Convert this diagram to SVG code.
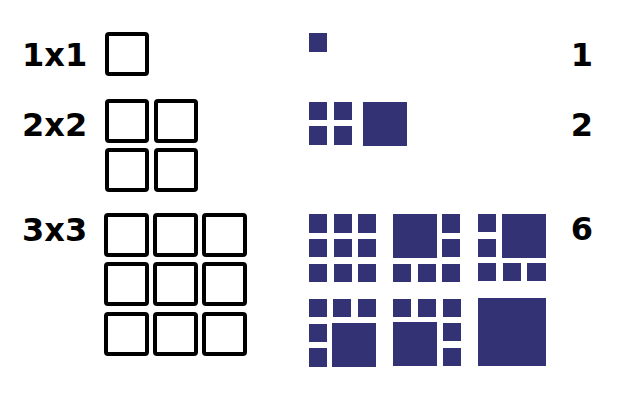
<svg xmlns="http://www.w3.org/2000/svg" width="640" height="400" viewBox="0 0 640 400">
<style>
.lbl{font-family:"DejaVu Sans","Liberation Sans",sans-serif;font-weight:bold;font-size:32px;fill:#000}
.num{font-family:"DejaVu Sans","Liberation Sans",sans-serif;font-weight:bold;font-size:32px;fill:#000;text-anchor:middle}
.cell{fill:#fff;stroke:#000;stroke-width:4}
.f{fill:#323274}
</style>
<rect width="640" height="400" fill="#fff"/>
<g id="labels">
<text class="lbl" x="22" y="66">1x1</text>
<text class="lbl" x="22" y="136">2x2</text>
<text class="lbl" x="22" y="241">3x3</text>
<text class="num" x="582" y="66">1</text>
<text class="num" x="582" y="136">2</text>
<text class="num" x="582" y="240">6</text>
</g>
<g id="grid1x1">
<rect class="cell" x="107" y="34" width="40" height="40" rx="2"/>
</g>
<g id="grid2x2">
<rect class="cell" x="107" y="101" width="40" height="40" rx="2"/>
<rect class="cell" x="156" y="101" width="40" height="40" rx="2"/>
<rect class="cell" x="107" y="150" width="40" height="40" rx="2"/>
<rect class="cell" x="156" y="150" width="40" height="40" rx="2"/>
</g>
<g id="grid3x3">
<rect class="cell" x="106" y="215" width="41" height="40" rx="2"/>
<rect class="cell" x="155" y="215" width="41" height="40" rx="2"/>
<rect class="cell" x="204" y="215" width="41" height="40" rx="2"/>
<rect class="cell" x="106" y="264" width="41" height="40" rx="2"/>
<rect class="cell" x="155" y="264" width="41" height="40" rx="2"/>
<rect class="cell" x="204" y="264" width="41" height="40" rx="2"/>
<rect class="cell" x="106" y="314" width="41" height="40" rx="2"/>
<rect class="cell" x="155" y="314" width="41" height="40" rx="2"/>
<rect class="cell" x="204" y="314" width="41" height="40" rx="2"/>
</g>
<g id="tiling1x1">
<rect class="f" x="309" y="33" width="18" height="19"/>
</g>
<g id="tiling2x2-a">
<rect class="f" x="309" y="102" width="18" height="18"/>
<rect class="f" x="334" y="102" width="18" height="18"/>
<rect class="f" x="309" y="126" width="18" height="19"/>
<rect class="f" x="334" y="126" width="18" height="19"/>
</g>
<g id="tiling2x2-b">
<rect class="f" x="363" y="102" width="44" height="44"/>
</g>
<g id="tiling3x3-a">
<rect class="f" x="309" y="214" width="18" height="19"/>
<rect class="f" x="334" y="214" width="18" height="19"/>
<rect class="f" x="358" y="214" width="18" height="19"/>
<rect class="f" x="309" y="239" width="18" height="18"/>
<rect class="f" x="334" y="239" width="18" height="18"/>
<rect class="f" x="358" y="239" width="18" height="18"/>
<rect class="f" x="309" y="264" width="18" height="18"/>
<rect class="f" x="334" y="264" width="18" height="18"/>
<rect class="f" x="358" y="264" width="18" height="18"/>
</g>
<g id="tiling3x3-b">
<rect class="f" x="393" y="214" width="44" height="44"/>
<rect class="f" x="442" y="214" width="18" height="19"/>
<rect class="f" x="442" y="239" width="18" height="18"/>
<rect class="f" x="393" y="264" width="18" height="18"/>
<rect class="f" x="418" y="264" width="18" height="18"/>
<rect class="f" x="442" y="264" width="18" height="18"/>
</g>
<g id="tiling3x3-c">
<rect class="f" x="478" y="214" width="18" height="18"/>
<rect class="f" x="478" y="239" width="18" height="18"/>
<rect class="f" x="502" y="214" width="44" height="44"/>
<rect class="f" x="478" y="263" width="18" height="18"/>
<rect class="f" x="503" y="263" width="18" height="18"/>
<rect class="f" x="527" y="263" width="19" height="18"/>
</g>
<g id="tiling3x3-d">
<rect class="f" x="309" y="299" width="18" height="18"/>
<rect class="f" x="333" y="299" width="18" height="18"/>
<rect class="f" x="358" y="299" width="18" height="18"/>
<rect class="f" x="309" y="324" width="18" height="18"/>
<rect class="f" x="309" y="348" width="18" height="19"/>
<rect class="f" x="332" y="323" width="44" height="44"/>
</g>
<g id="tiling3x3-e">
<rect class="f" x="393" y="299" width="18" height="18"/>
<rect class="f" x="418" y="299" width="18" height="18"/>
<rect class="f" x="443" y="299" width="18" height="18"/>
<rect class="f" x="393" y="322" width="44" height="44"/>
<rect class="f" x="443" y="323" width="18" height="18"/>
<rect class="f" x="443" y="348" width="18" height="18"/>
</g>
<g id="tiling3x3-f">
<rect class="f" x="478" y="298" width="68" height="68"/>
</g>
</svg>
